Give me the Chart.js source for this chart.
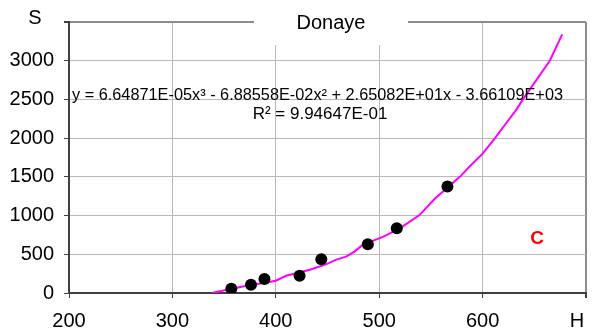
<!DOCTYPE html>
<html>
<head>
<meta charset="utf-8">
<script src="https://cdn.jsdelivr.net/npm/chart.js@4/dist/chart.umd.min.js"></script>
<style>
  body { margin: 0; background: #fff; }
  #wrap { width: 592px; height: 336px; position: relative; }
</style>
</head>
<body>
<div id="wrap"><canvas id="myChart"></canvas></div>
<script>
// measured points
var hValues = [357, 376, 389, 423, 444, 489, 517, 566];
var sValues = [55, 107, 180, 222, 437, 630, 835, 1375];

// fitted curve as it is drawn in the picture
var curveH = [338, 368, 400, 410, 433, 449, 458, 468, 476, 484, 504, 520, 539, 554, 578, 587, 600, 612, 624, 632, 639, 665, 677];
var curveS = [0, 85, 158, 222, 300, 373, 428, 470, 535, 621, 728, 835, 1006, 1221, 1500, 1627, 1800, 2000, 2215, 2356, 2500, 3000, 3340];

var xTicks = [200, 300, 400, 500, 600];
var yTicks = [0, 500, 1000, 1500, 2000, 2500, 3000];

var chartTitle = "Donaye";
var xTitle = "H";
var yTitle = "S";
var tag = "C";
var equation = "y = 6.64871E-05x\u00b3 - 6.88558E-02x\u00b2 + 2.65082E+01x - 3.66109E+03";
var rSquared = "R\u00b2 = 9.94647E-01";

var FONT = '"Liberation Sans", Arial, sans-serif';

function toXY(xs, ys) {
  var out = [];
  for (var i = 0; i < xs.length; i++) out.push({ x: xs[i], y: ys[i] });
  return out;
}

// title box, axis names, equation text
var textPlugin = {
  id: "texts",
  beforeDatasetsDraw: function (chart) {
    var ctx = chart.ctx;
    ctx.save();
    ctx.fillStyle = "#fff";
    ctx.fillRect(254, 0, 154, 45);
    ctx.fillStyle = "#000";
    ctx.font = "20px " + FONT;
    ctx.textAlign = "center";
    ctx.textBaseline = "middle";
    ctx.fillText(chartTitle, 331, 23);
    ctx.restore();
  },
  afterDraw: function (chart) {
    var ctx = chart.ctx;
    ctx.save();
    ctx.fillStyle = "#000";
    ctx.font = "20px " + FONT;
    ctx.textAlign = "center";
    ctx.textBaseline = "middle";
    ctx.fillText(yTitle, 35, 18);
    ctx.fillText(xTitle, 577, 321);

    ctx.font = "16.5px " + FONT;
    ctx.textBaseline = "alphabetic";
    ctx.textAlign = "left";
    ctx.fillText(equation, 72, 100, 491);
    ctx.font = "17px " + FONT;
    ctx.textAlign = "center";
    ctx.fillText(rSquared, 320, 119);

    ctx.fillStyle = "#ff0000";
    ctx.font = "bold 19px " + FONT;
    ctx.textBaseline = "middle";
    ctx.fillText(tag, 537, 239);
    ctx.restore();
  }
};

window.addEventListener("load", function () {
  var ctx = document.getElementById("myChart").getContext("2d");
  new Chart(ctx, {
    type: "scatter",
    data: {
      datasets: [
        {
          data: toXY(hValues, sValues),
          backgroundColor: "#000",
          borderColor: "#000",
          pointRadius: 6,
          borderWidth: 0,
          order: 1
        },
        {
          data: toXY(curveH, curveS),
          showLine: true,
          borderColor: "#ff00ff",
          borderWidth: 2,
          pointRadius: 0,
          tension: 0,
          order: 2
        }
      ]
    },
    options: {
      responsive: true,
      maintainAspectRatio: false,
      animation: false,
      layout: { padding: { left: 0, top: 22, right: 5, bottom: 0 } },
      plugins: { legend: { display: false }, tooltip: { enabled: false } },
      scales: {
        x: {
          type: "linear",
          min: 200,
          max: 700,
          afterFit: function (s) { s.height = 43; s.paddingRight = 0; },
          afterBuildTicks: function (s) {
            s.ticks = xTicks.concat([700]).map(function (v) { return { value: v }; });
          },
          ticks: {
            color: "#000",
            padding: 11,
            maxRotation: 0,
            font: { size: 20, family: FONT },
            callback: function (v) { return xTicks.indexOf(v) >= 0 ? String(v) : ""; }
          },
          grid: {
            color: function (c) {
              if (c.tick && c.tick.value === 700) return "#8c8c8c";
              if (c.tick && c.tick.value === 200) return "rgba(0,0,0,0)";
              return "#b8b8b8";
            },
            lineWidth: function (c) { return c.tick && c.tick.value === 700 ? 2 : 1; },
            tickColor: "#404040",
            tickLength: 5
          },
          border: { color: "#404040", width: 2 }
        },
        y: {
          min: 0,
          max: 3500,
          afterFit: function (s) { s.width = 69; },
          afterBuildTicks: function (s) {
            s.ticks = yTicks.concat([3500]).map(function (v) { return { value: v }; });
          },
          ticks: {
            color: "#000",
            padding: 10,
            font: { size: 20, family: FONT },
            callback: function (v) { return yTicks.indexOf(v) >= 0 ? String(v) : ""; }
          },
          grid: {
            color: function (c) {
              if (c.tick && c.tick.value === 3500) return "#8c8c8c";
              if (c.tick && c.tick.value === 0) return "rgba(0,0,0,0)";
              return "#b8b8b8";
            },
            lineWidth: function (c) { return c.tick && c.tick.value === 3500 ? 2 : 1; },
            tickColor: "#404040",
            tickLength: 5
          },
          border: { color: "#404040", width: 2 }
        }
      }
    },
    plugins: [textPlugin]
  });
});
</script>
</body>
</html>
